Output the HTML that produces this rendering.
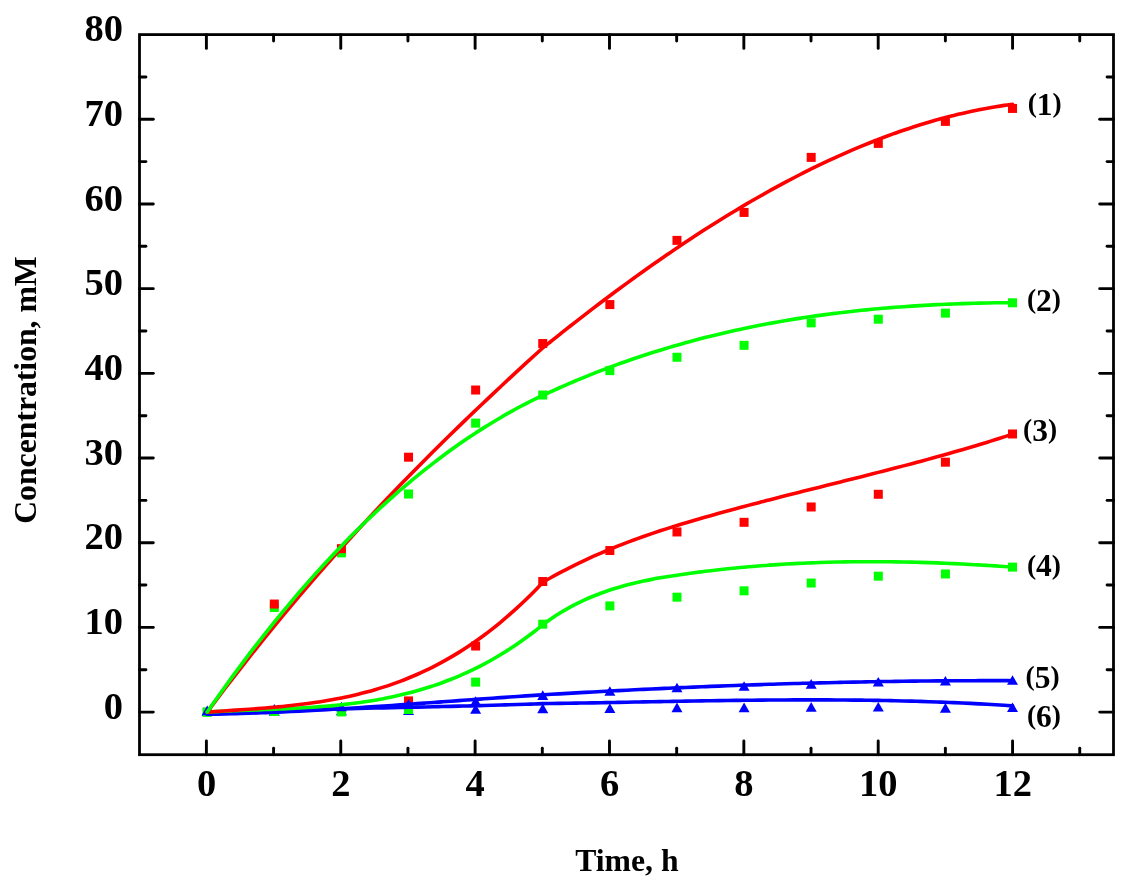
<!DOCTYPE html>
<html><head><meta charset="utf-8"><title>Concentration vs Time</title>
<style>html,body{margin:0;padding:0;background:#fff;}svg{display:block;}</style>
</head><body>
<svg width="1142" height="893" viewBox="0 0 1142 893">
<rect width="1142" height="893" fill="#fff"/>
<polygon points="207.20,706.45 212.70,716.05 201.70,716.05" fill="#0000ff"/>
<polygon points="274.31,706.03 279.81,715.63 268.81,715.63" fill="#0000ff"/>
<polygon points="341.42,705.61 346.92,715.21 335.92,715.21" fill="#0000ff"/>
<polygon points="408.53,705.44 414.03,715.04 403.03,715.04" fill="#0000ff"/>
<polygon points="475.64,704.08 481.14,713.68 470.14,713.68" fill="#0000ff"/>
<polygon points="542.75,703.57 548.25,713.17 537.25,713.17" fill="#0000ff"/>
<polygon points="609.86,703.32 615.36,712.92 604.36,712.92" fill="#0000ff"/>
<polygon points="676.97,702.56 682.47,712.16 671.47,712.16" fill="#0000ff"/>
<polygon points="744.08,702.56 749.58,712.16 738.58,712.16" fill="#0000ff"/>
<polygon points="811.19,702.05 816.69,711.65 805.69,711.65" fill="#0000ff"/>
<polygon points="878.30,701.96 883.80,711.56 872.80,711.56" fill="#0000ff"/>
<polygon points="945.41,703.07 950.91,712.67 939.91,712.67" fill="#0000ff"/>
<polygon points="1012.52,702.47 1018.02,712.07 1007.02,712.07" fill="#0000ff"/>
<rect x="202.70" y="707.60" width="9.0" height="9.0" fill="#00ff00"/>
<rect x="269.81" y="707.01" width="9.0" height="9.0" fill="#00ff00"/>
<rect x="336.92" y="707.43" width="9.0" height="9.0" fill="#00ff00"/>
<rect x="404.03" y="705.06" width="9.0" height="9.0" fill="#00ff00"/>
<rect x="471.14" y="677.62" width="9.0" height="9.0" fill="#00ff00"/>
<rect x="538.25" y="619.69" width="9.0" height="9.0" fill="#00ff00"/>
<rect x="605.36" y="601.40" width="9.0" height="9.0" fill="#00ff00"/>
<rect x="672.47" y="592.68" width="9.0" height="9.0" fill="#00ff00"/>
<rect x="739.58" y="586.32" width="9.0" height="9.0" fill="#00ff00"/>
<rect x="806.69" y="578.53" width="9.0" height="9.0" fill="#00ff00"/>
<rect x="873.80" y="571.67" width="9.0" height="9.0" fill="#00ff00"/>
<rect x="940.91" y="569.47" width="9.0" height="9.0" fill="#00ff00"/>
<rect x="1008.02" y="562.61" width="9.0" height="9.0" fill="#00ff00"/>
<rect x="202.70" y="707.60" width="9.0" height="9.0" fill="#00ff00"/>
<rect x="269.81" y="603.01" width="9.0" height="9.0" fill="#00ff00"/>
<rect x="336.92" y="548.38" width="9.0" height="9.0" fill="#00ff00"/>
<rect x="404.03" y="489.52" width="9.0" height="9.0" fill="#00ff00"/>
<rect x="471.14" y="418.64" width="9.0" height="9.0" fill="#00ff00"/>
<rect x="538.25" y="390.52" width="9.0" height="9.0" fill="#00ff00"/>
<rect x="605.36" y="366.13" width="9.0" height="9.0" fill="#00ff00"/>
<rect x="672.47" y="352.75" width="9.0" height="9.0" fill="#00ff00"/>
<rect x="739.58" y="340.81" width="9.0" height="9.0" fill="#00ff00"/>
<rect x="806.69" y="318.36" width="9.0" height="9.0" fill="#00ff00"/>
<rect x="873.80" y="314.72" width="9.0" height="9.0" fill="#00ff00"/>
<rect x="940.91" y="308.63" width="9.0" height="9.0" fill="#00ff00"/>
<rect x="1008.02" y="298.29" width="9.0" height="9.0" fill="#00ff00"/>
<rect x="269.81" y="599.54" width="9.0" height="9.0" fill="#ff0000"/>
<rect x="336.92" y="544.15" width="9.0" height="9.0" fill="#ff0000"/>
<rect x="404.03" y="452.68" width="9.0" height="9.0" fill="#ff0000"/>
<rect x="471.14" y="385.52" width="9.0" height="9.0" fill="#ff0000"/>
<rect x="538.25" y="339.03" width="9.0" height="9.0" fill="#ff0000"/>
<rect x="605.36" y="300.07" width="9.0" height="9.0" fill="#ff0000"/>
<rect x="672.47" y="235.88" width="9.0" height="9.0" fill="#ff0000"/>
<rect x="739.58" y="207.93" width="9.0" height="9.0" fill="#ff0000"/>
<rect x="806.69" y="152.88" width="9.0" height="9.0" fill="#ff0000"/>
<rect x="873.80" y="138.91" width="9.0" height="9.0" fill="#ff0000"/>
<rect x="940.91" y="116.89" width="9.0" height="9.0" fill="#ff0000"/>
<rect x="1008.02" y="103.93" width="9.0" height="9.0" fill="#ff0000"/>
<rect x="404.03" y="696.42" width="9.0" height="9.0" fill="#ff0000"/>
<rect x="471.14" y="641.54" width="9.0" height="9.0" fill="#ff0000"/>
<rect x="538.25" y="577.01" width="9.0" height="9.0" fill="#ff0000"/>
<rect x="605.36" y="546.01" width="9.0" height="9.0" fill="#ff0000"/>
<rect x="672.47" y="527.46" width="9.0" height="9.0" fill="#ff0000"/>
<rect x="739.58" y="517.81" width="9.0" height="9.0" fill="#ff0000"/>
<rect x="806.69" y="502.48" width="9.0" height="9.0" fill="#ff0000"/>
<rect x="873.80" y="489.78" width="9.0" height="9.0" fill="#ff0000"/>
<rect x="940.91" y="457.68" width="9.0" height="9.0" fill="#ff0000"/>
<rect x="1008.02" y="429.48" width="9.0" height="9.0" fill="#ff0000"/>
<polygon points="207.20,705.61 212.70,715.21 201.70,715.21" fill="#0000ff"/>
<polygon points="274.31,704.00 279.81,713.60 268.81,713.60" fill="#0000ff"/>
<polygon points="341.42,701.71 346.92,711.31 335.92,711.31" fill="#0000ff"/>
<polygon points="408.53,698.92 414.03,708.52 403.03,708.52" fill="#0000ff"/>
<polygon points="475.64,696.29 481.14,705.89 470.14,705.89" fill="#0000ff"/>
<polygon points="542.75,690.36 548.25,699.96 537.25,699.96" fill="#0000ff"/>
<polygon points="609.86,686.21 615.36,695.81 604.36,695.81" fill="#0000ff"/>
<polygon points="676.97,682.74 682.47,692.34 671.47,692.34" fill="#0000ff"/>
<polygon points="744.08,681.22 749.58,690.82 738.58,690.82" fill="#0000ff"/>
<polygon points="811.19,679.10 816.69,688.70 805.69,688.70" fill="#0000ff"/>
<polygon points="878.30,676.98 883.80,686.58 872.80,686.58" fill="#0000ff"/>
<polygon points="945.41,675.88 950.91,685.48 939.91,685.48" fill="#0000ff"/>
<polygon points="1012.52,675.20 1018.02,684.80 1007.02,684.80" fill="#0000ff"/>
<g fill="none" stroke-width="3.6" stroke-linejoin="round" stroke-linecap="round">
<path d="M207.20,714.22 C208.60,714.14 212.79,713.90 215.59,713.74 C218.38,713.59 221.18,713.44 223.98,713.29 C226.77,713.15 229.57,713.01 232.37,712.87 C235.16,712.73 237.96,712.59 240.75,712.46 C243.55,712.33 246.35,712.20 249.14,712.08 C251.94,711.95 254.74,711.83 257.53,711.71 C260.33,711.59 263.12,711.47 265.92,711.36 C268.72,711.25 271.51,711.14 274.31,711.03 C277.11,710.93 279.90,710.82 282.70,710.72 C285.50,710.62 288.29,710.52 291.09,710.42 C293.88,710.33 296.68,710.23 299.48,710.14 C302.27,710.05 305.07,709.96 307.87,709.87 C310.66,709.78 313.46,709.70 316.25,709.61 C319.05,709.53 321.85,709.45 324.64,709.37 C327.44,709.29 330.24,709.21 333.03,709.13 C335.83,709.05 338.62,708.98 341.42,708.90 C344.22,708.83 347.01,708.76 349.81,708.69 C352.60,708.62 355.40,708.55 358.20,708.48 C360.99,708.41 363.79,708.34 366.59,708.27 C369.38,708.21 372.18,708.14 374.98,708.07 C377.77,708.01 380.57,707.94 383.36,707.88 C386.16,707.82 388.96,707.75 391.75,707.69 C394.55,707.62 397.35,707.56 400.14,707.50 C402.94,707.44 405.73,707.37 408.53,707.31 C411.33,707.25 414.12,707.19 416.92,707.12 C419.71,707.06 422.51,707.00 425.31,706.93 C428.10,706.87 430.90,706.81 433.70,706.74 C436.49,706.68 439.29,706.62 442.08,706.55 C444.88,706.49 447.68,706.42 450.47,706.35 C453.27,706.29 456.07,706.22 458.86,706.15 C461.66,706.08 464.45,706.01 467.25,705.94 C470.05,705.87 472.84,705.80 475.64,705.73 C478.44,705.65 481.23,705.58 484.03,705.50 C486.82,705.43 489.62,705.35 492.42,705.27 C495.21,705.19 498.01,705.11 500.81,705.03 C503.60,704.95 506.40,704.86 509.19,704.78 C511.99,704.69 514.79,704.60 517.58,704.51 C520.38,704.42 523.18,704.33 525.97,704.23 C528.77,704.14 531.56,704.04 534.36,703.94 C537.16,703.84 541.35,703.68 542.75,703.63 C544.15,703.62 548.34,703.56 551.14,703.52 C553.93,703.48 556.73,703.43 559.53,703.39 C562.32,703.35 565.12,703.30 567.92,703.26 C570.71,703.21 573.51,703.17 576.31,703.12 C579.10,703.07 581.90,703.03 584.69,702.98 C587.49,702.93 590.29,702.88 593.08,702.83 C595.88,702.78 598.68,702.73 601.47,702.68 C604.27,702.63 607.06,702.58 609.86,702.53 C612.66,702.47 615.45,702.42 618.25,702.37 C621.04,702.32 623.84,702.27 626.64,702.21 C629.43,702.16 632.23,702.11 635.03,702.06 C637.82,702.00 640.62,701.95 643.41,701.90 C646.21,701.85 649.01,701.80 651.80,701.74 C654.60,701.69 657.40,701.64 660.19,701.59 C662.99,701.54 665.78,701.49 668.58,701.44 C671.38,701.39 674.17,701.34 676.97,701.29 C679.77,701.24 682.56,701.19 685.36,701.14 C688.15,701.09 690.95,701.05 693.75,701.00 C696.54,700.95 699.34,700.91 702.14,700.86 C704.93,700.82 707.73,700.78 710.52,700.73 C713.32,700.69 716.12,700.65 718.91,700.61 C721.71,700.57 724.51,700.53 727.30,700.49 C730.10,700.45 732.90,700.42 735.69,700.38 C738.49,700.35 741.28,700.31 744.08,700.28 C746.88,700.25 749.67,700.22 752.47,700.19 C755.26,700.16 758.06,700.13 760.86,700.11 C763.65,700.08 766.45,700.06 769.25,700.04 C772.04,700.02 774.84,700.00 777.63,699.98 C780.43,699.96 783.23,699.95 786.02,699.93 C788.82,699.92 791.62,699.91 794.41,699.90 C797.21,699.89 800.00,699.88 802.80,699.88 C805.60,699.87 808.39,699.87 811.19,699.87 C813.99,699.87 816.78,699.87 819.58,699.88 C822.37,699.89 825.17,699.89 827.97,699.90 C830.76,699.91 833.56,699.93 836.36,699.94 C839.15,699.96 841.95,699.98 844.74,700.00 C847.54,700.02 850.34,700.05 853.13,700.08 C855.93,700.11 858.73,700.14 861.52,700.17 C864.32,700.21 867.11,700.24 869.91,700.29 C872.71,700.33 875.50,700.37 878.30,700.42 C881.10,700.47 883.89,700.52 886.69,700.57 C889.49,700.63 892.28,700.69 895.08,700.75 C897.87,700.81 900.67,700.87 903.47,700.94 C906.26,701.01 909.06,701.09 911.86,701.16 C914.65,701.24 917.45,701.32 920.24,701.41 C923.04,701.49 925.84,701.58 928.63,701.68 C931.43,701.77 934.23,701.87 937.02,701.97 C939.82,702.07 942.61,702.18 945.41,702.29 C948.21,702.40 951.00,702.51 953.80,702.63 C956.59,702.75 959.39,702.87 962.19,703.00 C964.98,703.13 967.78,703.26 970.58,703.40 C973.37,703.54 976.17,703.68 978.96,703.83 C981.76,703.97 984.56,704.13 987.35,704.28 C990.15,704.44 992.95,704.60 995.74,704.77 C998.54,704.94 1001.33,705.11 1004.13,705.29 C1006.93,705.46 1011.12,705.74 1012.52,705.84" stroke="#0000ff"/>
<path d="M207.20,714.22 C208.60,714.20 212.79,714.14 215.59,714.09 C218.38,714.04 221.18,713.99 223.98,713.93 C226.77,713.87 229.57,713.81 232.37,713.74 C235.16,713.67 237.96,713.59 240.75,713.51 C243.55,713.43 246.35,713.34 249.14,713.25 C251.94,713.16 254.74,713.07 257.53,712.97 C260.33,712.87 263.12,712.76 265.92,712.65 C268.72,712.55 271.51,712.43 274.31,712.31 C277.11,712.20 279.90,712.07 282.70,711.95 C285.50,711.82 288.29,711.69 291.09,711.56 C293.88,711.43 296.68,711.29 299.48,711.15 C302.27,711.01 305.07,710.86 307.87,710.71 C310.66,710.56 313.46,710.41 316.25,710.26 C319.05,710.10 321.85,709.95 324.64,709.79 C327.44,709.62 330.24,709.46 333.03,709.29 C335.83,709.13 338.62,708.96 341.42,708.79 C344.22,708.61 347.01,708.44 349.81,708.26 C352.60,708.09 355.40,707.91 358.20,707.72 C360.99,707.54 363.79,707.36 366.59,707.17 C369.38,706.99 372.18,706.80 374.98,706.61 C377.77,706.42 380.57,706.23 383.36,706.04 C386.16,705.85 388.96,705.65 391.75,705.46 C394.55,705.26 397.35,705.07 400.14,704.87 C402.94,704.67 405.73,704.47 408.53,704.27 C411.33,704.07 414.12,703.87 416.92,703.67 C419.71,703.47 422.51,703.26 425.31,703.06 C428.10,702.86 430.90,702.66 433.70,702.45 C436.49,702.25 439.29,702.05 442.08,701.84 C444.88,701.64 447.68,701.43 450.47,701.23 C453.27,701.03 456.07,700.82 458.86,700.62 C461.66,700.42 464.45,700.21 467.25,700.01 C470.05,699.81 472.84,699.61 475.64,699.40 C478.44,699.20 481.23,699.00 484.03,698.80 C486.82,698.60 489.62,698.41 492.42,698.21 C495.21,698.01 498.01,697.81 500.81,697.62 C503.60,697.42 506.40,697.23 509.19,697.04 C511.99,696.85 514.79,696.66 517.58,696.47 C520.38,696.28 523.18,696.09 525.97,695.91 C528.77,695.72 531.56,695.54 534.36,695.36 C537.16,695.18 541.35,694.91 542.75,694.82 C544.15,694.74 548.34,694.48 551.14,694.32 C553.93,694.15 556.73,693.99 559.53,693.83 C562.32,693.66 565.12,693.50 567.92,693.34 C570.71,693.18 573.51,693.03 576.31,692.87 C579.10,692.71 581.90,692.56 584.69,692.40 C587.49,692.25 590.29,692.09 593.08,691.94 C595.88,691.79 598.68,691.64 601.47,691.49 C604.27,691.34 607.06,691.20 609.86,691.05 C612.66,690.90 615.45,690.76 618.25,690.62 C621.04,690.47 623.84,690.33 626.64,690.19 C629.43,690.05 632.23,689.91 635.03,689.78 C637.82,689.64 640.62,689.50 643.41,689.37 C646.21,689.23 649.01,689.10 651.80,688.97 C654.60,688.84 657.40,688.71 660.19,688.58 C662.99,688.45 665.78,688.32 668.58,688.20 C671.38,688.07 674.17,687.95 676.97,687.83 C679.77,687.70 682.56,687.58 685.36,687.46 C688.15,687.34 690.95,687.22 693.75,687.11 C696.54,686.99 699.34,686.87 702.14,686.76 C704.93,686.65 707.73,686.53 710.52,686.42 C713.32,686.31 716.12,686.20 718.91,686.10 C721.71,685.99 724.51,685.88 727.30,685.78 C730.10,685.67 732.90,685.57 735.69,685.47 C738.49,685.37 741.28,685.26 744.08,685.17 C746.88,685.07 749.67,684.97 752.47,684.88 C755.26,684.78 758.06,684.69 760.86,684.59 C763.65,684.50 766.45,684.41 769.25,684.32 C772.04,684.23 774.84,684.14 777.63,684.06 C780.43,683.97 783.23,683.89 786.02,683.80 C788.82,683.72 791.62,683.64 794.41,683.56 C797.21,683.48 800.00,683.40 802.80,683.32 C805.60,683.25 808.39,683.17 811.19,683.10 C813.99,683.02 816.78,682.95 819.58,682.88 C822.37,682.81 825.17,682.74 827.97,682.68 C830.76,682.61 833.56,682.54 836.36,682.48 C839.15,682.42 841.95,682.35 844.74,682.29 C847.54,682.23 850.34,682.17 853.13,682.12 C855.93,682.06 858.73,682.00 861.52,681.95 C864.32,681.89 867.11,681.84 869.91,681.79 C872.71,681.74 875.50,681.69 878.30,681.64 C881.10,681.60 883.89,681.55 886.69,681.51 C889.49,681.46 892.28,681.42 895.08,681.38 C897.87,681.34 900.67,681.30 903.47,681.26 C906.26,681.23 909.06,681.19 911.86,681.16 C914.65,681.12 917.45,681.09 920.24,681.06 C923.04,681.03 925.84,681.00 928.63,680.97 C931.43,680.94 934.23,680.92 937.02,680.90 C939.82,680.87 942.61,680.85 945.41,680.83 C948.21,680.81 951.00,680.79 953.80,680.77 C956.59,680.76 959.39,680.74 962.19,680.73 C964.98,680.71 967.78,680.70 970.58,680.69 C973.37,680.68 976.17,680.68 978.96,680.67 C981.76,680.66 984.56,680.66 987.35,680.65 C990.15,680.65 992.95,680.65 995.74,680.65 C998.54,680.65 1001.33,680.65 1004.13,680.66 C1006.93,680.66 1011.12,680.67 1012.52,680.68" stroke="#0000ff"/>
<path d="M207.20,712.10 C208.60,712.02 212.79,711.77 215.59,711.62 C218.38,711.47 221.18,711.34 223.98,711.20 C226.77,711.07 229.57,710.94 232.37,710.82 C235.16,710.70 237.96,710.59 240.75,710.48 C243.55,710.36 246.35,710.26 249.14,710.15 C251.94,710.04 254.74,709.94 257.53,709.84 C260.33,709.73 263.12,709.63 265.92,709.52 C268.72,709.41 271.51,709.30 274.31,709.19 C277.11,709.08 279.90,708.96 282.70,708.84 C285.50,708.71 288.29,708.58 291.09,708.45 C293.88,708.31 296.68,708.17 299.48,708.01 C302.27,707.86 305.07,707.70 307.87,707.52 C310.66,707.35 313.46,707.16 316.25,706.96 C319.05,706.76 321.85,706.55 324.64,706.32 C327.44,706.09 330.24,705.85 333.03,705.59 C335.83,705.33 338.62,705.05 341.42,704.76 C344.22,704.46 347.01,704.15 349.81,703.81 C352.60,703.47 355.40,703.12 358.20,702.74 C360.99,702.36 363.79,701.96 366.59,701.53 C369.38,701.10 372.18,700.65 374.98,700.17 C377.77,699.70 380.57,699.19 383.36,698.66 C386.16,698.13 388.96,697.57 391.75,696.98 C394.55,696.39 397.35,695.77 400.14,695.11 C402.94,694.46 405.73,693.78 408.53,693.06 C411.33,692.34 414.12,691.59 416.92,690.80 C419.71,690.01 422.51,689.19 425.31,688.32 C428.10,687.46 430.90,686.56 433.70,685.62 C436.49,684.68 439.29,683.71 442.08,682.69 C444.88,681.67 447.68,680.61 450.47,679.50 C453.27,678.40 456.07,677.25 458.86,676.06 C461.66,674.86 464.45,673.63 467.25,672.34 C470.05,671.06 472.84,669.73 475.64,668.35 C478.44,666.96 481.23,665.54 484.03,664.06 C486.82,662.58 489.62,661.05 492.42,659.46 C495.21,657.88 498.01,656.24 500.81,654.55 C503.60,652.86 506.40,651.12 509.19,649.32 C511.99,647.51 514.79,645.66 517.58,643.74 C520.38,641.82 523.18,639.85 525.97,637.82 C528.77,635.78 531.56,633.69 534.36,631.53 C537.16,629.38 541.35,625.99 542.75,624.88 C544.15,623.55 548.34,620.52 551.14,618.64 C553.93,616.76 556.73,614.97 559.53,613.25 C562.32,611.54 565.12,609.91 567.92,608.35 C570.71,606.79 573.51,605.31 576.31,603.90 C579.10,602.48 581.90,601.14 584.69,599.87 C587.49,598.59 590.29,597.38 593.08,596.23 C595.88,595.08 598.68,594.00 601.47,592.96 C604.27,591.93 607.06,590.95 609.86,590.03 C612.66,589.10 615.45,588.23 618.25,587.40 C621.04,586.57 623.84,585.79 626.64,585.05 C629.43,584.31 632.23,583.61 635.03,582.95 C637.82,582.29 640.62,581.66 643.41,581.07 C646.21,580.47 649.01,579.92 651.80,579.38 C654.60,578.84 657.40,578.34 660.19,577.85 C662.99,577.37 665.78,576.91 668.58,576.46 C671.38,576.01 674.17,575.59 676.97,575.17 C679.77,574.75 682.56,574.35 685.36,573.95 C688.15,573.56 690.95,573.18 693.75,572.80 C696.54,572.43 699.34,572.07 702.14,571.72 C704.93,571.36 707.73,571.02 710.52,570.69 C713.32,570.36 716.12,570.04 718.91,569.72 C721.71,569.41 724.51,569.11 727.30,568.82 C730.10,568.53 732.90,568.24 735.69,567.97 C738.49,567.70 741.28,567.44 744.08,567.18 C746.88,566.93 749.67,566.68 752.47,566.45 C755.26,566.21 758.06,565.99 760.86,565.77 C763.65,565.56 766.45,565.35 769.25,565.15 C772.04,564.96 774.84,564.77 777.63,564.59 C780.43,564.41 783.23,564.24 786.02,564.07 C788.82,563.91 791.62,563.76 794.41,563.61 C797.21,563.47 800.00,563.33 802.80,563.20 C805.60,563.08 808.39,562.96 811.19,562.85 C813.99,562.73 816.78,562.63 819.58,562.54 C822.37,562.44 825.17,562.36 827.97,562.28 C830.76,562.20 833.56,562.13 836.36,562.06 C839.15,562.00 841.95,561.95 844.74,561.90 C847.54,561.85 850.34,561.81 853.13,561.78 C855.93,561.75 858.73,561.72 861.52,561.71 C864.32,561.69 867.11,561.68 869.91,561.68 C872.71,561.68 875.50,561.68 878.30,561.69 C881.10,561.70 883.89,561.72 886.69,561.75 C889.49,561.77 892.28,561.81 895.08,561.85 C897.87,561.88 900.67,561.93 903.47,561.98 C906.26,562.04 909.06,562.10 911.86,562.16 C914.65,562.23 917.45,562.30 920.24,562.38 C923.04,562.46 925.84,562.54 928.63,562.63 C931.43,562.72 934.23,562.82 937.02,562.92 C939.82,563.03 942.61,563.14 945.41,563.25 C948.21,563.37 951.00,563.49 953.80,563.61 C956.59,563.74 959.39,563.87 962.19,564.01 C964.98,564.15 967.78,564.29 970.58,564.44 C973.37,564.59 976.17,564.74 978.96,564.90 C981.76,565.06 984.56,565.23 987.35,565.40 C990.15,565.56 992.95,565.74 995.74,565.92 C998.54,566.10 1001.33,566.28 1004.13,566.47 C1006.93,566.66 1011.12,566.96 1012.52,567.05" stroke="#00ff00"/>
<path d="M207.20,712.09 C208.60,711.99 212.79,711.70 215.59,711.51 C218.38,711.32 221.18,711.13 223.98,710.94 C226.77,710.75 229.57,710.57 232.37,710.38 C235.16,710.19 237.96,710.00 240.75,709.81 C243.55,709.61 246.35,709.42 249.14,709.22 C251.94,709.02 254.74,708.81 257.53,708.60 C260.33,708.38 263.12,708.16 265.92,707.93 C268.72,707.70 271.51,707.46 274.31,707.21 C277.11,706.96 279.90,706.69 282.70,706.42 C285.50,706.14 288.29,705.85 291.09,705.55 C293.88,705.24 296.68,704.92 299.48,704.58 C302.27,704.24 305.07,703.89 307.87,703.51 C310.66,703.14 313.46,702.74 316.25,702.33 C319.05,701.91 321.85,701.47 324.64,701.01 C327.44,700.55 330.24,700.06 333.03,699.55 C335.83,699.04 338.62,698.50 341.42,697.94 C344.22,697.37 347.01,696.78 349.81,696.16 C352.60,695.54 355.40,694.89 358.20,694.20 C360.99,693.52 363.79,692.81 366.59,692.06 C369.38,691.31 372.18,690.53 374.98,689.71 C377.77,688.89 380.57,688.03 383.36,687.14 C386.16,686.25 388.96,685.32 391.75,684.35 C394.55,683.38 397.35,682.37 400.14,681.32 C402.94,680.26 405.73,679.17 408.53,678.03 C411.33,676.89 414.12,675.71 416.92,674.48 C419.71,673.26 422.51,671.98 425.31,670.66 C428.10,669.34 430.90,667.97 433.70,666.55 C436.49,665.13 439.29,663.66 442.08,662.14 C444.88,660.61 447.68,659.04 450.47,657.41 C453.27,655.78 456.07,654.10 458.86,652.37 C461.66,650.63 464.45,648.84 467.25,646.99 C470.05,645.15 472.84,643.24 475.64,641.28 C478.44,639.32 481.23,637.30 484.03,635.22 C486.82,633.15 489.62,631.01 492.42,628.81 C495.21,626.62 498.01,624.36 500.81,622.04 C503.60,619.72 506.40,617.34 509.19,614.90 C511.99,612.45 514.79,609.95 517.58,607.38 C520.38,604.80 523.18,602.17 525.97,599.47 C528.77,596.76 531.56,594.00 534.36,591.16 C537.16,588.33 541.35,583.91 542.75,582.46 C544.15,581.51 548.34,579.08 551.14,577.52 C553.93,575.96 556.73,574.43 559.53,572.93 C562.32,571.44 565.12,569.98 567.92,568.55 C570.71,567.12 573.51,565.72 576.31,564.35 C579.10,562.98 581.90,561.64 584.69,560.33 C587.49,559.02 590.29,557.74 593.08,556.48 C595.88,555.23 598.68,554.00 601.47,552.80 C604.27,551.60 607.06,550.42 609.86,549.27 C612.66,548.12 615.45,546.99 618.25,545.89 C621.04,544.78 623.84,543.70 626.64,542.64 C629.43,541.58 632.23,540.54 635.03,539.51 C637.82,538.49 640.62,537.49 643.41,536.51 C646.21,535.53 649.01,534.56 651.80,533.61 C654.60,532.67 657.40,531.74 660.19,530.82 C662.99,529.90 665.78,529.00 668.58,528.12 C671.38,527.23 674.17,526.36 676.97,525.49 C679.77,524.63 682.56,523.78 685.36,522.95 C688.15,522.11 690.95,521.28 693.75,520.46 C696.54,519.64 699.34,518.83 702.14,518.03 C704.93,517.23 707.73,516.44 710.52,515.65 C713.32,514.86 716.12,514.08 718.91,513.31 C721.71,512.53 724.51,511.76 727.30,511.00 C730.10,510.24 732.90,509.48 735.69,508.73 C738.49,507.97 741.28,507.22 744.08,506.48 C746.88,505.74 749.67,505.00 752.47,504.26 C755.26,503.52 758.06,502.79 760.86,502.07 C763.65,501.34 766.45,500.61 769.25,499.89 C772.04,499.17 774.84,498.45 777.63,497.74 C780.43,497.02 783.23,496.31 786.02,495.60 C788.82,494.89 791.62,494.18 794.41,493.48 C797.21,492.77 800.00,492.07 802.80,491.36 C805.60,490.66 808.39,489.96 811.19,489.26 C813.99,488.56 816.78,487.86 819.58,487.16 C822.37,486.46 825.17,485.76 827.97,485.06 C830.76,484.36 833.56,483.66 836.36,482.96 C839.15,482.26 841.95,481.56 844.74,480.86 C847.54,480.16 850.34,479.46 853.13,478.76 C855.93,478.05 858.73,477.35 861.52,476.64 C864.32,475.94 867.11,475.23 869.91,474.52 C872.71,473.81 875.50,473.10 878.30,472.38 C881.10,471.67 883.89,470.95 886.69,470.23 C889.49,469.51 892.28,468.79 895.08,468.06 C897.87,467.33 900.67,466.60 903.47,465.87 C906.26,465.13 909.06,464.39 911.86,463.65 C914.65,462.90 917.45,462.16 920.24,461.40 C923.04,460.65 925.84,459.89 928.63,459.13 C931.43,458.37 934.23,457.60 937.02,456.82 C939.82,456.05 942.61,455.27 945.41,454.48 C948.21,453.69 951.00,452.90 953.80,452.10 C956.59,451.30 959.39,450.50 962.19,449.68 C964.98,448.87 967.78,448.05 970.58,447.22 C973.37,446.39 976.17,445.56 978.96,444.71 C981.76,443.87 984.56,443.02 987.35,442.16 C990.15,441.30 992.95,440.43 995.74,439.55 C998.54,438.67 1001.33,437.79 1004.13,436.89 C1006.93,435.99 1011.12,434.63 1012.52,434.17" stroke="#ff0000"/>
<path d="M207.20,712.09 C208.60,710.22 212.79,704.58 215.59,700.87 C218.38,697.15 221.18,693.45 223.98,689.78 C226.77,686.11 229.57,682.46 232.37,678.84 C235.16,675.21 237.96,671.61 240.75,668.03 C243.55,664.45 246.35,660.89 249.14,657.35 C251.94,653.82 254.74,650.30 257.53,646.81 C260.33,643.32 263.12,639.84 265.92,636.39 C268.72,632.94 271.51,629.51 274.31,626.10 C277.11,622.69 279.90,619.30 282.70,615.93 C285.50,612.57 288.29,609.22 291.09,605.89 C293.88,602.56 296.68,599.25 299.48,595.96 C302.27,592.67 305.07,589.40 307.87,586.14 C310.66,582.89 313.46,579.66 316.25,576.44 C319.05,573.23 321.85,570.03 324.64,566.85 C327.44,563.68 330.24,560.52 333.03,557.37 C335.83,554.23 338.62,551.10 341.42,548.00 C344.22,544.89 347.01,541.80 349.81,538.72 C352.60,535.65 355.40,532.59 358.20,529.55 C360.99,526.51 363.79,523.48 366.59,520.47 C369.38,517.46 372.18,514.47 374.98,511.49 C377.77,508.51 380.57,505.55 383.36,502.60 C386.16,499.65 388.96,496.72 391.75,493.80 C394.55,490.89 397.35,487.98 400.14,485.09 C402.94,482.20 405.73,479.33 408.53,476.47 C411.33,473.61 414.12,470.76 416.92,467.92 C419.71,465.09 422.51,462.27 425.31,459.46 C428.10,456.65 430.90,453.86 433.70,451.07 C436.49,448.29 439.29,445.52 442.08,442.76 C444.88,440.00 447.68,437.26 450.47,434.52 C453.27,431.79 456.07,429.06 458.86,426.35 C461.66,423.64 464.45,420.94 467.25,418.25 C470.05,415.56 472.84,412.88 475.64,410.21 C478.44,407.54 481.23,404.88 484.03,402.24 C486.82,399.59 489.62,396.95 492.42,394.32 C495.21,391.69 498.01,389.07 500.81,386.46 C503.60,383.85 506.40,381.25 509.19,378.65 C511.99,376.06 514.79,373.48 517.58,370.90 C520.38,368.32 523.18,365.76 525.97,363.20 C528.77,360.64 531.56,358.08 534.36,355.54 C537.16,352.99 541.35,349.19 542.75,347.93 C544.15,346.87 548.34,343.48 551.14,341.25 C553.93,339.01 556.73,336.78 559.53,334.56 C562.32,332.34 565.12,330.13 567.92,327.93 C570.71,325.73 573.51,323.54 576.31,321.36 C579.10,319.18 581.90,317.02 584.69,314.86 C587.49,312.70 590.29,310.56 593.08,308.42 C595.88,306.29 598.68,304.16 601.47,302.05 C604.27,299.94 607.06,297.83 609.86,295.74 C612.66,293.65 615.45,291.58 618.25,289.51 C621.04,287.44 623.84,285.39 626.64,283.35 C629.43,281.30 632.23,279.27 635.03,277.26 C637.82,275.24 640.62,273.23 643.41,271.24 C646.21,269.25 649.01,267.27 651.80,265.30 C654.60,263.33 657.40,261.38 660.19,259.44 C662.99,257.50 665.78,255.57 668.58,253.65 C671.38,251.74 674.17,249.84 676.97,247.95 C679.77,246.06 682.56,244.19 685.36,242.33 C688.15,240.47 690.95,238.62 693.75,236.79 C696.54,234.96 699.34,233.15 702.14,231.34 C704.93,229.54 707.73,227.75 710.52,225.98 C713.32,224.20 716.12,222.45 718.91,220.70 C721.71,218.96 724.51,217.23 727.30,215.52 C730.10,213.80 732.90,212.11 735.69,210.42 C738.49,208.74 741.28,207.07 744.08,205.42 C746.88,203.77 749.67,202.14 752.47,200.52 C755.26,198.90 758.06,197.30 760.86,195.71 C763.65,194.12 766.45,192.55 769.25,191.00 C772.04,189.45 774.84,187.91 777.63,186.39 C780.43,184.87 783.23,183.37 786.02,181.88 C788.82,180.39 791.62,178.92 794.41,177.47 C797.21,176.02 800.00,174.59 802.80,173.17 C805.60,171.75 808.39,170.36 811.19,168.98 C813.99,167.59 816.78,166.23 819.58,164.89 C822.37,163.54 825.17,162.22 827.97,160.91 C830.76,159.60 833.56,158.31 836.36,157.04 C839.15,155.77 841.95,154.52 844.74,153.28 C847.54,152.05 850.34,150.84 853.13,149.64 C855.93,148.45 858.73,147.27 861.52,146.12 C864.32,144.96 867.11,143.82 869.91,142.71 C872.71,141.59 875.50,140.49 878.30,139.42 C881.10,138.34 883.89,137.28 886.69,136.25 C889.49,135.21 892.28,134.20 895.08,133.20 C897.87,132.20 900.67,131.23 903.47,130.28 C906.26,129.32 909.06,128.39 911.86,127.48 C914.65,126.57 917.45,125.67 920.24,124.80 C923.04,123.94 925.84,123.09 928.63,122.26 C931.43,121.43 934.23,120.63 937.02,119.85 C939.82,119.06 942.61,118.30 945.41,117.56 C948.21,116.82 951.00,116.11 953.80,115.41 C956.59,114.72 959.39,114.05 962.19,113.40 C964.98,112.75 967.78,112.12 970.58,111.52 C973.37,110.92 976.17,110.34 978.96,109.78 C981.76,109.22 984.56,108.69 987.35,108.18 C990.15,107.67 992.95,107.18 995.74,106.72 C998.54,106.25 1001.33,105.81 1004.13,105.40 C1006.93,104.98 1011.12,104.42 1012.52,104.22" stroke="#ff0000"/>
<path d="M207.20,712.05 C208.60,710.05 212.79,704.01 215.59,700.04 C218.38,696.07 221.18,692.14 223.98,688.25 C226.77,684.35 229.57,680.50 232.37,676.68 C235.16,672.86 237.96,669.07 240.75,665.33 C243.55,661.58 246.35,657.87 249.14,654.20 C251.94,650.52 254.74,646.88 257.53,643.28 C260.33,639.68 263.12,636.11 265.92,632.59 C268.72,629.06 271.51,625.56 274.31,622.10 C277.11,618.65 279.90,615.22 282.70,611.84 C285.50,608.45 288.29,605.10 291.09,601.79 C293.88,598.47 296.68,595.19 299.48,591.95 C302.27,588.71 305.07,585.50 307.87,582.32 C310.66,579.15 313.46,576.01 316.25,572.91 C319.05,569.81 321.85,566.74 324.64,563.71 C327.44,560.67 330.24,557.68 333.03,554.71 C335.83,551.75 338.62,548.82 341.42,545.93 C344.22,543.03 347.01,540.18 349.81,537.35 C352.60,534.53 355.40,531.74 358.20,528.98 C360.99,526.23 363.79,523.50 366.59,520.82 C369.38,518.13 372.18,515.48 374.98,512.86 C377.77,510.24 380.57,507.65 383.36,505.10 C386.16,502.55 388.96,500.03 391.75,497.55 C394.55,495.07 397.35,492.62 400.14,490.20 C402.94,487.79 405.73,485.40 408.53,483.05 C411.33,480.70 414.12,478.39 416.92,476.11 C419.71,473.82 422.51,471.57 425.31,469.36 C428.10,467.14 430.90,464.96 433.70,462.81 C436.49,460.66 439.29,458.54 442.08,456.46 C444.88,454.37 447.68,452.32 450.47,450.30 C453.27,448.28 456.07,446.30 458.86,444.34 C461.66,442.39 464.45,440.47 467.25,438.58 C470.05,436.69 472.84,434.84 475.64,433.01 C478.44,431.19 481.23,429.39 484.03,427.63 C486.82,425.87 489.62,424.15 492.42,422.45 C495.21,420.75 498.01,419.09 500.81,417.46 C503.60,415.82 506.40,414.22 509.19,412.65 C511.99,411.09 514.79,409.55 517.58,408.04 C520.38,406.54 523.18,405.06 525.97,403.62 C528.77,402.17 531.56,400.76 534.36,399.38 C537.16,398.00 541.35,396.00 542.75,395.33 C544.15,394.74 548.34,392.79 551.14,391.52 C553.93,390.24 556.73,388.99 559.53,387.75 C562.32,386.51 565.12,385.29 567.92,384.09 C570.71,382.88 573.51,381.69 576.31,380.52 C579.10,379.35 581.90,378.20 584.69,377.06 C587.49,375.92 590.29,374.80 593.08,373.70 C595.88,372.59 598.68,371.50 601.47,370.43 C604.27,369.35 607.06,368.30 609.86,367.26 C612.66,366.21 615.45,365.19 618.25,364.18 C621.04,363.17 623.84,362.17 626.64,361.20 C629.43,360.22 632.23,359.25 635.03,358.30 C637.82,357.35 640.62,356.42 643.41,355.50 C646.21,354.58 649.01,353.68 651.80,352.79 C654.60,351.90 657.40,351.03 660.19,350.17 C662.99,349.31 665.78,348.46 668.58,347.63 C671.38,346.80 674.17,345.98 676.97,345.18 C679.77,344.38 682.56,343.59 685.36,342.81 C688.15,342.04 690.95,341.28 693.75,340.53 C696.54,339.78 699.34,339.05 702.14,338.33 C704.93,337.61 707.73,336.90 710.52,336.21 C713.32,335.51 716.12,334.83 718.91,334.17 C721.71,333.50 724.51,332.84 727.30,332.20 C730.10,331.56 732.90,330.93 735.69,330.31 C738.49,329.70 741.28,329.09 744.08,328.50 C746.88,327.91 749.67,327.33 752.47,326.76 C755.26,326.20 758.06,325.64 760.86,325.10 C763.65,324.56 766.45,324.03 769.25,323.51 C772.04,322.99 774.84,322.48 777.63,321.98 C780.43,321.49 783.23,321.00 786.02,320.53 C788.82,320.05 791.62,319.59 794.41,319.14 C797.21,318.69 800.00,318.25 802.80,317.82 C805.60,317.39 808.39,316.97 811.19,316.57 C813.99,316.16 816.78,315.76 819.58,315.37 C822.37,314.99 825.17,314.61 827.97,314.24 C830.76,313.88 833.56,313.52 836.36,313.18 C839.15,312.83 841.95,312.50 844.74,312.17 C847.54,311.84 850.34,311.53 853.13,311.22 C855.93,310.91 858.73,310.62 861.52,310.33 C864.32,310.04 867.11,309.76 869.91,309.49 C872.71,309.22 875.50,308.96 878.30,308.71 C881.10,308.46 883.89,308.22 886.69,307.98 C889.49,307.75 892.28,307.53 895.08,307.31 C897.87,307.09 900.67,306.89 903.47,306.69 C906.26,306.49 909.06,306.30 911.86,306.11 C914.65,305.93 917.45,305.75 920.24,305.59 C923.04,305.42 925.84,305.26 928.63,305.11 C931.43,304.96 934.23,304.81 937.02,304.67 C939.82,304.54 942.61,304.41 945.41,304.29 C948.21,304.16 951.00,304.05 953.80,303.94 C956.59,303.83 959.39,303.73 962.19,303.64 C964.98,303.54 967.78,303.46 970.58,303.38 C973.37,303.29 976.17,303.22 978.96,303.15 C981.76,303.08 984.56,303.02 987.35,302.97 C990.15,302.91 992.95,302.86 995.74,302.82 C998.54,302.78 1001.33,302.74 1004.13,302.71 C1006.93,302.68 1011.12,302.64 1012.52,302.63" stroke="#00ff00"/>
</g>
<g stroke="#000" stroke-width="2.9" stroke-linecap="round">
<line x1="206.40" y1="754.70" x2="206.40" y2="740.90"/>
<line x1="206.40" y1="34.60" x2="206.40" y2="48.40"/>
<line x1="273.58" y1="754.70" x2="273.58" y2="748.30"/>
<line x1="273.58" y1="34.60" x2="273.58" y2="41.00"/>
<line x1="340.76" y1="754.70" x2="340.76" y2="740.90"/>
<line x1="340.76" y1="34.60" x2="340.76" y2="48.40"/>
<line x1="407.94" y1="754.70" x2="407.94" y2="748.30"/>
<line x1="407.94" y1="34.60" x2="407.94" y2="41.00"/>
<line x1="475.12" y1="754.70" x2="475.12" y2="740.90"/>
<line x1="475.12" y1="34.60" x2="475.12" y2="48.40"/>
<line x1="542.30" y1="754.70" x2="542.30" y2="748.30"/>
<line x1="542.30" y1="34.60" x2="542.30" y2="41.00"/>
<line x1="609.48" y1="754.70" x2="609.48" y2="740.90"/>
<line x1="609.48" y1="34.60" x2="609.48" y2="48.40"/>
<line x1="676.66" y1="754.70" x2="676.66" y2="748.30"/>
<line x1="676.66" y1="34.60" x2="676.66" y2="41.00"/>
<line x1="743.84" y1="754.70" x2="743.84" y2="740.90"/>
<line x1="743.84" y1="34.60" x2="743.84" y2="48.40"/>
<line x1="811.02" y1="754.70" x2="811.02" y2="748.30"/>
<line x1="811.02" y1="34.60" x2="811.02" y2="41.00"/>
<line x1="878.20" y1="754.70" x2="878.20" y2="740.90"/>
<line x1="878.20" y1="34.60" x2="878.20" y2="48.40"/>
<line x1="945.38" y1="754.70" x2="945.38" y2="748.30"/>
<line x1="945.38" y1="34.60" x2="945.38" y2="41.00"/>
<line x1="1012.56" y1="754.70" x2="1012.56" y2="740.90"/>
<line x1="1012.56" y1="34.60" x2="1012.56" y2="48.40"/>
<line x1="1079.74" y1="754.70" x2="1079.74" y2="748.30"/>
<line x1="1079.74" y1="34.60" x2="1079.74" y2="41.00"/>
<line x1="139.50" y1="712.10" x2="153.30" y2="712.10"/>
<line x1="1113.50" y1="712.10" x2="1099.70" y2="712.10"/>
<line x1="139.50" y1="669.75" x2="145.90" y2="669.75"/>
<line x1="1113.50" y1="669.75" x2="1107.10" y2="669.75"/>
<line x1="139.50" y1="627.41" x2="153.30" y2="627.41"/>
<line x1="1113.50" y1="627.41" x2="1099.70" y2="627.41"/>
<line x1="139.50" y1="585.07" x2="145.90" y2="585.07"/>
<line x1="1113.50" y1="585.07" x2="1107.10" y2="585.07"/>
<line x1="139.50" y1="542.72" x2="153.30" y2="542.72"/>
<line x1="1113.50" y1="542.72" x2="1099.70" y2="542.72"/>
<line x1="139.50" y1="500.38" x2="145.90" y2="500.38"/>
<line x1="1113.50" y1="500.38" x2="1107.10" y2="500.38"/>
<line x1="139.50" y1="458.03" x2="153.30" y2="458.03"/>
<line x1="1113.50" y1="458.03" x2="1099.70" y2="458.03"/>
<line x1="139.50" y1="415.69" x2="145.90" y2="415.69"/>
<line x1="1113.50" y1="415.69" x2="1107.10" y2="415.69"/>
<line x1="139.50" y1="373.34" x2="153.30" y2="373.34"/>
<line x1="1113.50" y1="373.34" x2="1099.70" y2="373.34"/>
<line x1="139.50" y1="331.00" x2="145.90" y2="331.00"/>
<line x1="1113.50" y1="331.00" x2="1107.10" y2="331.00"/>
<line x1="139.50" y1="288.65" x2="153.30" y2="288.65"/>
<line x1="1113.50" y1="288.65" x2="1099.70" y2="288.65"/>
<line x1="139.50" y1="246.31" x2="145.90" y2="246.31"/>
<line x1="1113.50" y1="246.31" x2="1107.10" y2="246.31"/>
<line x1="139.50" y1="203.96" x2="153.30" y2="203.96"/>
<line x1="1113.50" y1="203.96" x2="1099.70" y2="203.96"/>
<line x1="139.50" y1="161.62" x2="145.90" y2="161.62"/>
<line x1="1113.50" y1="161.62" x2="1107.10" y2="161.62"/>
<line x1="139.50" y1="119.27" x2="153.30" y2="119.27"/>
<line x1="1113.50" y1="119.27" x2="1099.70" y2="119.27"/>
<line x1="139.50" y1="76.93" x2="145.90" y2="76.93"/>
<line x1="1113.50" y1="76.93" x2="1107.10" y2="76.93"/>
</g>
<rect x="139.5" y="34.6" width="974.0" height="720.1" fill="none" stroke="#000" stroke-width="2.8"/>
<g font-family='"Liberation Serif", serif' font-weight="bold" font-size="38.5" fill="#000">
<text x="123" y="718.80" text-anchor="end">0</text>
<text x="123" y="634.11" text-anchor="end">10</text>
<text x="123" y="549.42" text-anchor="end">20</text>
<text x="123" y="464.73" text-anchor="end">30</text>
<text x="123" y="380.04" text-anchor="end">40</text>
<text x="123" y="295.35" text-anchor="end">50</text>
<text x="123" y="210.66" text-anchor="end">60</text>
<text x="123" y="125.97" text-anchor="end">70</text>
<text x="123" y="41.28" text-anchor="end">80</text>
<text x="206.50" y="795.8" text-anchor="middle">0</text>
<text x="340.86" y="795.8" text-anchor="middle">2</text>
<text x="475.22" y="795.8" text-anchor="middle">4</text>
<text x="609.58" y="795.8" text-anchor="middle">6</text>
<text x="743.94" y="795.8" text-anchor="middle">8</text>
<text x="878.30" y="795.8" text-anchor="middle">10</text>
<text x="1012.66" y="795.8" text-anchor="middle">12</text>
</g>
<g font-family='"Liberation Serif", serif' font-weight="bold" font-size="30" fill="#000">
<text x="1027.7" y="114.7"><tspan font-size="27.5" dy="-2.6">(</tspan><tspan font-size="31.5" dy="2.6">1</tspan><tspan font-size="27.5" dy="-2.6">)</tspan></text>
<text x="1026.9" y="310.8"><tspan font-size="27.5" dy="-2.6">(</tspan><tspan font-size="31.5" dy="2.6">2</tspan><tspan font-size="27.5" dy="-2.6">)</tspan></text>
<text x="1023.1" y="440.8"><tspan font-size="27.5" dy="-2.6">(</tspan><tspan font-size="31.5" dy="2.6">3</tspan><tspan font-size="27.5" dy="-2.6">)</tspan></text>
<text x="1026.9" y="576.2"><tspan font-size="27.5" dy="-2.6">(</tspan><tspan font-size="31.5" dy="2.6">4</tspan><tspan font-size="27.5" dy="-2.6">)</tspan></text>
<text x="1025.6" y="687.6"><tspan font-size="27.5" dy="-2.6">(</tspan><tspan font-size="31.5" dy="2.6">5</tspan><tspan font-size="27.5" dy="-2.6">)</tspan></text>
<text x="1026.9" y="726.8"><tspan font-size="27.5" dy="-2.6">(</tspan><tspan font-size="31.5" dy="2.6">6</tspan><tspan font-size="27.5" dy="-2.6">)</tspan></text>
</g>
<g font-family='"Liberation Serif", serif' font-weight="bold" font-size="31.7" fill="#000">
<text x="626.9" y="871.1" text-anchor="middle">Time, h</text>
<text transform="translate(35.8,390) rotate(-90)" text-anchor="middle">Concentration, mM</text>
</g>
</svg>
</body></html>
